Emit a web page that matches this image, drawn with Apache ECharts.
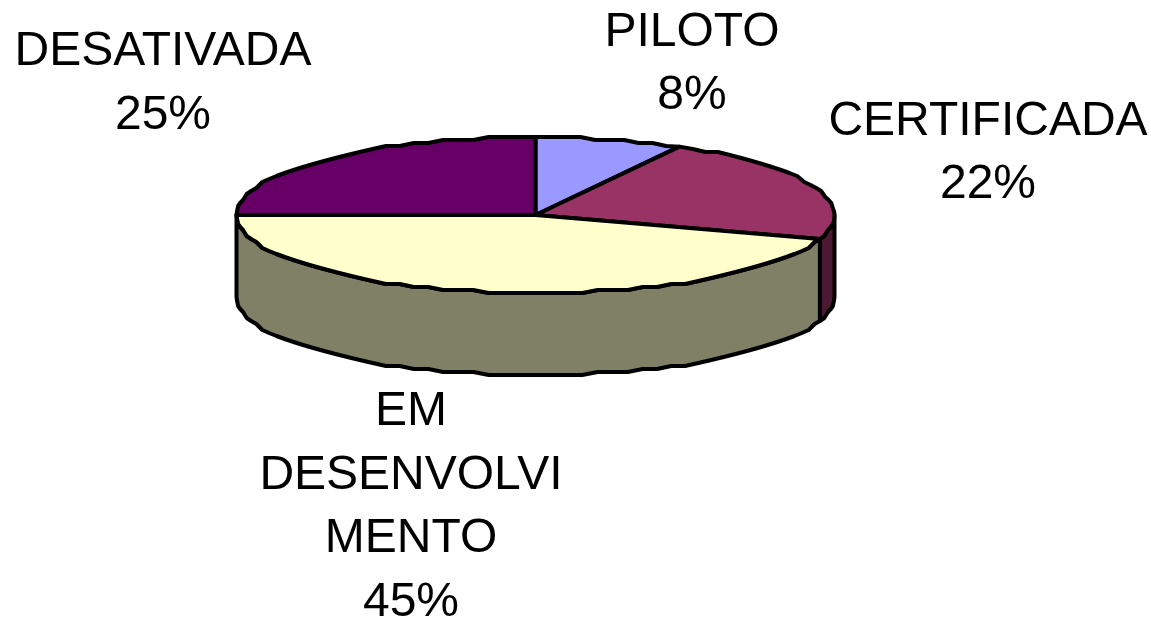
<!DOCTYPE html>
<html>
<head>
<meta charset="utf-8">
<style>html,body{margin:0;padding:0;background:#fff}#chart{width:1151px;height:620px}</style>
<script src="https://cdn.jsdelivr.net/npm/echarts@6/dist/echarts.min.js"></script>
</head>
<body>
<div id="chart"></div>
<script>
const categories = ['PILOTO', 'CERTIFICADA', 'EM\nDESENVOLVI\nMENTO', 'DESATIVADA'];
const seriesValues = [8, 22, 45, 25];
const topColors = ['#9999ff', '#993366', '#ffffcc', '#660066'];
const wallColors = ['#4c4c80', '#4c1933', '#808066', '#330033'];
const labelCentres = [[692, 64.5], [988, 153.5], [411, 507.5], [163, 84]];

const cx = 535.5, cy = 215, rx = 299, ry = 78, depth = 82;
const total = seriesValues.reduce((a, b) => a + b, 0);

// Starts of each slice, in radians clockwise from 12 o'clock
const starts = [];
seriesValues.reduce((acc, v, i) => { starts[i] = acc / total * Math.PI * 2; return acc + v; }, 0);

const SNAP = 3, STEP = Math.PI / 60;
function rim(t, dy, exact) {
  const x = cx + rx * Math.sin(t);
  const y = cy - ry * Math.cos(t);
  return [x, (exact ? y : cy + Math.round((y - cy) / SNAP) * SNAP) + dy];
}
function arc(a, b, dy) {
  const pts = [rim(a, dy, true)];
  const n = Math.max(1, Math.ceil((b - a) / STEP));
  for (let i = 1; i < n; i++) pts.push(rim(a + (b - a) * i / n, dy));
  pts.push(rim(b, dy, true));
  return pts;
}

function renderItem(params, api) {
  const i = params.dataIndex;
  const a = starts[i];
  const b = a + api.value(0) / total * Math.PI * 2;
  const children = [];
  const stroke = { stroke: '#000', lineWidth: 4, lineJoin: 'round' };

  // Visible outer wall: the front half of the rim only
  const wa = Math.max(a, Math.PI / 2), wb = Math.min(b, Math.PI * 1.5);
  if (wb > wa) {
    const top = arc(wa, wb, 0);
    const bottom = arc(wa, wb, depth).reverse();
    children.push({
      type: 'polygon', z2: 1,
      shape: { points: top.concat(bottom) },
      style: Object.assign({ fill: wallColors[i] }, stroke)
    });
  }
  // Top face of the slice
  children.push({
    type: 'polygon', z2: 2,
    shape: { points: [[cx, cy]].concat(arc(a, b, 0)) },
    style: Object.assign({ fill: topColors[i] }, stroke)
  });
  // Label
  const pct = Math.round(api.value(0) / total * 100) + '%';
  children.push({
    type: 'text', z2: 3,
    style: {
      text: categories[i] + '\n' + pct,
      x: labelCentres[i][0], y: labelCentres[i][1],
      align: 'center', verticalAlign: 'middle',
      font: '48px "Liberation Sans", Arial, sans-serif',
      lineHeight: 63.5, fill: '#000'
    }
  });
  return { type: 'group', children };
}

const chart = echarts.init(document.getElementById('chart'), null, { renderer: 'canvas' });
chart.setOption({
  animation: false,
  backgroundColor: '#ffffff',
  series: [{
    type: 'custom',
    coordinateSystem: 'none',
    renderItem,
    data: seriesValues.map((v, i) => ({ name: categories[i], value: [v] }))
  }]
});
</script>
</body>
</html>
